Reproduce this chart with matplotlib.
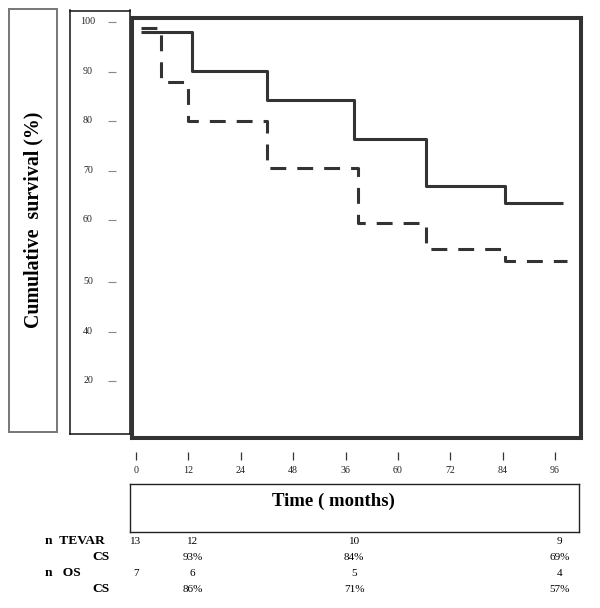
#-------------------------------------------------------------------------------
#  curva de sobrevida cumulativa TEVAR x OS (Kaplan-Meier)
#-------------------------------------------------------------------------------
import matplotlib
matplotlib.use("Agg")
import matplotlib.pyplot as plt
import matplotlib.transforms as mtransforms

plt.rcParams['font.family'] = ['Liberation Serif', 'DejaVu Serif']

W, H = 600, 608

# dados (meses, sobrevida %)
tevar_t = [1.1, 12.8, 30.0, 49.9, 66.4, 84.5, 97.8]
tevar_s = [98.0, 90.1, 84.3, 76.4, 66.9, 63.4, 63.4]
os_t = [1.1, 5.7, 11.9, 30.0, 50.9, 66.4, 84.5, 98.7]
os_s = [98.7, 87.9, 80.0, 70.5, 59.4, 54.2, 51.7, 51.7]

xtick_pos = [0, 12, 24, 36, 48, 60, 72, 84, 96]
xtick_lab = ['0', '12', '24', '48', '36', '60', '72', '84', '96']
ytick_pos = [100, 89.9, 80, 69.9, 60, 47.5, 37.4, 27.5]
ytick_lab = ['100', '90', '80', '70', '60', '50', '40', '20']

# tabela de pacientes em risco
tab_cols = [0, 13, 50, 97]
tevar_n = ['13', '12', '10', '9']
tevar_cs = ['', '93%', '84%', '69%']
os_n = ['7', '6', '5', '4']
os_cs = ['', '86%', '71%', '57%']


# conversao pixel -> escala dos eixos
def mes(px):
    return (px - 136) / 4.365


def pct(py):
    return 100 - (py - 22) / 4.95


def rect(x0, y0, x1, y1):
    return [x0 / W, 1 - y1 / H, (x1 - x0) / W, (y1 - y0) / H]


def caixa(r, cor, lw):
    a = fig.add_axes(rect(*r))
    a.set_xticks([])
    a.set_yticks([])
    for s in a.spines.values():
        s.set_color(cor)
        s.set_linewidth(lw)
    return a


fig = plt.figure(figsize=(W / 100, H / 100), dpi=100)

# caixa do titulo do eixo y
caixa((8.5, 9, 57.5, 432), '#777777', 1.4)
fig.text(33 / W, 1 - 220 / H, 'Cumulative  survival (%)', rotation=90,
         fontsize=14.3, fontweight='bold', ha='center', va='center')

# caixa dos rotulos do eixo y
tb = caixa((69.5, 10.5, 129.5, 434), '#111111', 1.1)
tb.set_xlim(69.5, 129.5)
tb.set_ylim(pct(434), pct(10.5))
for v, lab in zip(ytick_pos, ytick_lab):
    tb.text(88, v, lab, fontsize=7.2, ha='center', va='center', color='#222222')
tb.hlines(ytick_pos, 108, 116, color='#888888', lw=0.8)

# grafico principal
ax = fig.add_axes(rect(132, 18, 581, 438))
ax.set_xlim(mes(132), mes(581))
ax.set_ylim(pct(438), pct(18))
ax.set_xticks([])
ax.set_yticks([])
for s in ax.spines.values():
    s.set_color('#333333')
    s.set_linewidth(2.9)
ax.plot(tevar_t, tevar_s, drawstyle='steps-post', color='#333333', lw=2.2,
        solid_capstyle='butt')
ax.plot(os_t, os_s, drawstyle='steps-post', color='#333333', lw=2.2,
        ls=(0, (5.2, 3.6)))

# eixo x separado (ticks abaixo da caixa)
axx = fig.add_axes(rect(132, 440, 581, 460))
axx.set_xlim(mes(132), mes(581))
axx.patch.set_visible(False)
for s in axx.spines.values():
    s.set_visible(False)
axx.set_yticks([])
axx.set_xticks(xtick_pos)
axx.set_xticklabels(xtick_lab, fontsize=7.2, color='#222222')
axx.tick_params(axis='x', direction='in', length=5.8, width=0.9, pad=4.3,
                color='#333333')

# caixa do titulo do eixo x
caixa((129.5, 483.5, 578.5, 532), '#222222', 1.0)
fig.text(333 / W, 1 - 501 / H, 'Time ( months)', fontsize=13.5,
         fontweight='bold', ha='center', va='center')

# tabela
trans = mtransforms.blended_transform_factory(ax.transData, fig.transFigure)
linhas = [tevar_n, tevar_cs, os_n, os_cs]
ys = [541, 557, 573, 589]
for vals, yp in zip(linhas, ys):
    for t, v in zip(tab_cols, vals):
        ax.text(t, 1 - yp / H, v, transform=trans, fontsize=8, ha='center',
                va='center', clip_on=False)

fig.text(45 / W, 1 - 541 / H, 'n  TEVAR', fontsize=9.7, fontweight='bold',
         ha='left', va='center')
fig.text(110 / W, 1 - 557 / H, 'CS', fontsize=9.7, fontweight='bold',
         ha='right', va='center')
fig.text(45 / W, 1 - 573 / H, 'n   OS', fontsize=9.7, fontweight='bold',
         ha='left', va='center')
fig.text(110 / W, 1 - 589 / H, 'CS', fontsize=9.7, fontweight='bold',
         ha='right', va='center')

plt.savefig('out.png', dpi=100)
